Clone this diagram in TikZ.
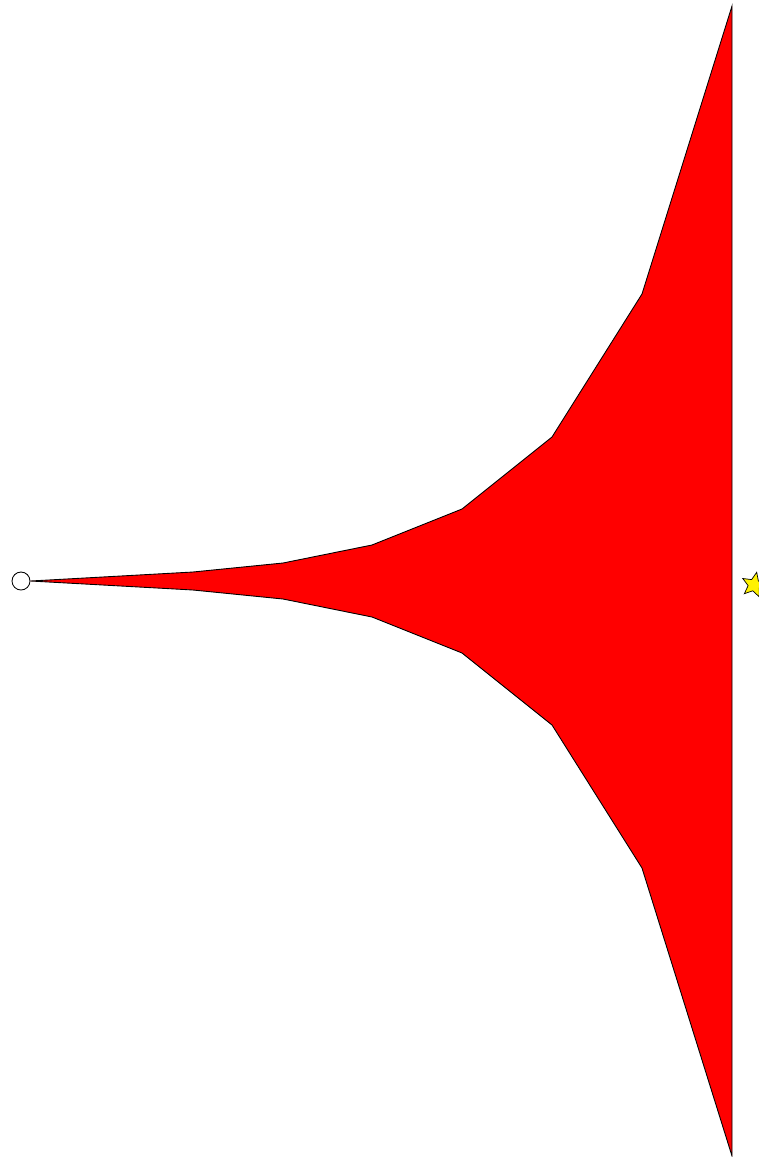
\documentclass[tikz,border=0pt]{standalone}
\usepackage{xcolor}
\usepackage{tikz}
\usetikzlibrary{shapes.geometric, positioning}

\begin{document}
\begin{tikzpicture}[x=0.02cm, y=-0.02cm,
          horn/.style={draw=black, fill=red, line width=0.5pt, line join=miter},
          src/.style={circle, draw=black, fill=white, line width=0.5pt,
                      minimum size=18*0.02cm, inner sep=0pt},
          mark star/.style={star, star points=5, star point ratio=2.2,
                            draw=black, fill=yellow, line width=0.4pt,
                            minimum size=26*0.02cm, inner sep=0pt, rotate=-12}
        ]
        \useasboundingbox (0,0) rectangle (758,1157);
        % Source
        \node[src] (srcpt) at (21,581) {};
        % Target
        \node[mark star] (tgt) at (754,585) {};
        % Horn
        \draw[horn] (srcpt.east)
              -- (193,572) -- (283,563) -- (372,545) -- (462,509)
              -- (552,437) -- (642,294) -- (732,6)
              -- (732,1156)
              -- (642,868) -- (552,725) -- (462,653) -- (372,617)
              -- (283,599) -- (193,590) -- cycle;
      \end{tikzpicture}
\end{document}
